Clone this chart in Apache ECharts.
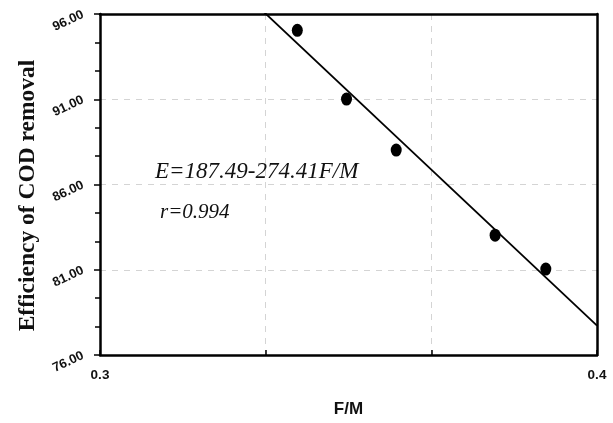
<!DOCTYPE html>
<html>
<head>
<meta charset="utf-8">
<script src="https://cdn.jsdelivr.net/npm/echarts@6/dist/echarts.min.js"></script>
<style>
  html, body { margin: 0; padding: 0; background: #fff; }
  #chart { width: 613px; height: 423px; }
</style>
</head>
<body>
<div id="chart"></div>
<script>
// Measured COD removal efficiency against F/M ratio
const fmRatio = [0.3397, 0.3496, 0.3596, 0.3795, 0.3897];
const codRemoval = [95.04, 91.01, 88.02, 83.03, 81.04];

// Linear regression reported for the data: E = a + b * F/M
const fitIntercept = 187.49;
const fitSlope = -274.41;
const fitX = [0.3, 0.4];
const fitLabel = 'E=187.49-274.41F/M';
const corrLabel = 'r=0.994';

const xRange = [0.3, 0.4];
const yRange = [76, 96];
const yStep = 5;

const fitData = fitX.map(x => [x, fitIntercept + fitSlope * x]);
const scatterData = fmRatio.map((x, i) => [x, codRemoval[i]]);

const chart = echarts.init(document.getElementById('chart'), null, { renderer: 'canvas' });

const near = (a, b) => Math.abs(a - b) < 1e-6;
const gridDash = { show: true, showMinLine: false, showMaxLine: false,
  lineStyle: { color: '#d4d4d4', type: [6, 6], width: 1 } };
const frameLine = { show: true, lineStyle: { color: '#000', width: 2.5 } };

// Top and right axes only draw the frame of the plot box
const frameAxis = {
  type: 'value',
  axisLine: frameLine,
  axisTick: { show: false },
  axisLabel: { show: false },
  splitLine: { show: false }
};

chart.setOption({
  animation: false,
  backgroundColor: '#ffffff',
  grid: { left: 100, top: 14, right: 16, bottom: 61 },
  xAxis: [
    {
      type: 'value',
      min: xRange[0], max: xRange[1],
      interval: (xRange[1] - xRange[0]) / 3,
      name: 'F/M',
      nameLocation: 'middle',
      nameGap: 46,
      nameTextStyle: { fontFamily: 'Liberation Sans', fontWeight: 'bold', fontSize: 17, color: '#111' },
      axisLine: frameLine,
      axisTick: { inside: true, length: 5, lineStyle: { color: '#000', width: 1.5 } },
      axisLabel: {
        margin: 13,
        fontFamily: 'Liberation Sans', fontWeight: 'bold', fontSize: 13.5, color: '#111',
        showMaxLabel: true, showMinLabel: true,
        formatter: v => near(v, xRange[0]) ? '0.3' : (near(v, xRange[1]) ? '0.4' : '')
      },
      splitLine: gridDash,
      z: 1
    },
    Object.assign({ position: 'top', min: xRange[0], max: xRange[1], z: 5 }, frameAxis)
  ],
  yAxis: [
    {
      type: 'value',
      min: yRange[0], max: yRange[1], interval: yStep,
      name: 'Efficiency of COD removal',
      nameLocation: 'middle',
      nameGap: 60,
      nameTextStyle: {
        fontFamily: 'Liberation Serif', fontWeight: 'bold', fontSize: 23.5, color: '#111',
        padding: [0, 22, 0, 0]
      },
      axisLine: frameLine,
      axisTick: { show: true, length: 6, lineStyle: { color: '#000', width: 1.5 } },
      minorTick: { show: true, splitNumber: 3, length: 5, lineStyle: { color: '#000', width: 1.5 } },
      axisLabel: {
        margin: 17, rotate: 25,
        fontFamily: 'Liberation Sans', fontWeight: 'bold', fontSize: 13, color: '#111',
        formatter: v => v.toFixed(2)
      },
      splitLine: gridDash,
      z: 1
    },
    Object.assign({ position: 'right', min: yRange[0], max: yRange[1], z: 5 }, frameAxis)
  ],
  series: [
    {
      type: 'line',
      data: fitData,
      clip: true,
      symbol: 'none',
      lineStyle: { color: '#000', width: 1.8 },
      z: 2
    },
    {
      type: 'scatter',
      data: scatterData,
      symbol: 'circle',
      symbolSize: [11, 13],
      itemStyle: { color: '#000', opacity: 1 },
      z: 3
    }
  ],
  graphic: [
    {
      type: 'text', left: 155, top: 160,
      style: { text: fitLabel, fontFamily: 'Liberation Serif', fontStyle: 'italic', fontSize: 23, fill: '#111' }
    },
    {
      type: 'text', left: 160, top: 202,
      style: { text: corrLabel, fontFamily: 'Liberation Serif', fontStyle: 'italic', fontSize: 21, fill: '#111' }
    }
  ]
});
</script>
</body>
</html>
